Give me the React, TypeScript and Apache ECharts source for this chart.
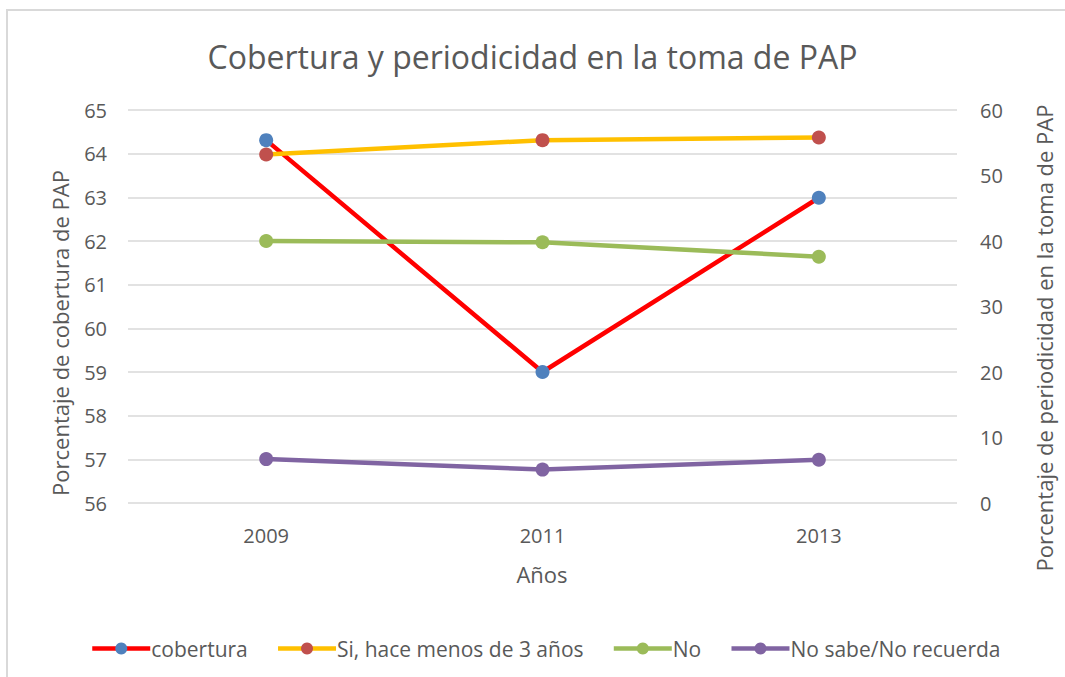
import React, { useEffect, useRef } from "react";
import * as echarts from "echarts";

const years = ["2009", "2011", "2013"];
const cobertura = [64.31, 59.0, 62.99];
const siMenos3 = [53.2, 55.4, 55.8];
const noSerie = [40.0, 39.8, 37.6];
const noSabe = [6.7, 5.1, 6.6];

const FONT = "'Open Sans', sans-serif";
const TXT = "#595959";

export default function App() {
  const ref = useRef<HTMLDivElement>(null);
  useEffect(() => {
    if (!ref.current) return;
    const chart = echarts.init(ref.current, undefined, { renderer: "svg" });
    const mk = (name: string, data: number[], line: string, marker: string, yi: number) => ({
      name,
      type: "line",
      yAxisIndex: yi,
      data,
      symbol: "circle",
      symbolSize: 14,
      lineStyle: { color: line, width: 4.5 },
      itemStyle: { color: marker },
      z: 3,
    });
    chart.setOption({
      animation: false,
      textStyle: { fontFamily: FONT },
      title: {
        text: "Cobertura y periodicidad en la toma de PAP",
        left: "center",
        top: 35,
        textStyle: { fontFamily: FONT, fontSize: 32, fontWeight: "normal", color: TXT },
      },
      grid: { left: 128, right: 108, top: 110, bottom: 174 },
      xAxis: {
        type: "category",
        data: years,
        boundaryGap: true,
        axisLine: { show: false },
        axisTick: { show: false },
        axisLabel: { color: TXT, fontSize: 20, margin: 22, fontFamily: FONT },
      },
      yAxis: [
        {
          type: "value",
          min: 56,
          max: 65,
          interval: 1,
          axisLine: { show: false },
          axisTick: { show: false },
          axisLabel: { color: TXT, fontSize: 20, margin: 21, fontFamily: FONT },
          splitLine: { lineStyle: { color: "#d9d9d9", width: 1.5 } },
        },
        {
          type: "value",
          min: 0,
          max: 60,
          interval: 10,
          axisLine: { show: false },
          axisTick: { show: false },
          axisLabel: { color: TXT, fontSize: 20, margin: 23, fontFamily: FONT },
          splitLine: { show: false },
        },
      ],
      legend: {
        top: 633,
        left: 85,
        itemWidth: 58,
        itemHeight: 15,
        itemGap: 28,
        lineStyle: { width: 4.5 },
        textStyle: { color: TXT, fontSize: 21, fontFamily: FONT, padding: [0, 0, 0, -4] },
        data: ["cobertura", "Si, hace menos de 3 años", "No", "No sabe/No recuerda"],
      },
      graphic: [
        {
          type: "rect",
          shape: { x: 7, y: 10, width: 1070, height: 680 },
          style: { fill: "none", stroke: "#d9d9d9", lineWidth: 2 },
          silent: true,
        },
        {
          type: "text",
          x: 60,
          y: 333,
          rotation: Math.PI / 2,
          style: { text: "Porcentaje de cobertura de PAP", fill: TXT, fontSize: 22, fontFamily: FONT, align: "center", verticalAlign: "middle" },
        },
        {
          type: "text",
          x: 1044,
          y: 338,
          rotation: Math.PI / 2,
          style: { text: "Porcentaje de periodicidad en la toma de PAP", fill: TXT, fontSize: 22, fontFamily: FONT, align: "center", verticalAlign: "middle" },
        },
        {
          type: "text",
          x: 542,
          y: 574,
          style: { text: "Años", fill: TXT, fontSize: 22, fontFamily: FONT, align: "center", verticalAlign: "middle" },
        },
      ],
      series: [
        mk("cobertura", cobertura, "#FF0000", "#4F81BD", 0),
        mk("Si, hace menos de 3 años", siMenos3, "#FFC000", "#C0504D", 1),
        mk("No", noSerie, "#9BBB59", "#9BBB59", 1),
        mk("No sabe/No recuerda", noSabe, "#8064A2", "#8064A2", 1),
      ],
    });
    return () => chart.dispose();
  }, []);
  return (
    <div
      ref={ref}
      style={{ position: "fixed", left: 0, top: 0, width: 1065, height: 677, background: "#fff" }}
    />
  );
}
